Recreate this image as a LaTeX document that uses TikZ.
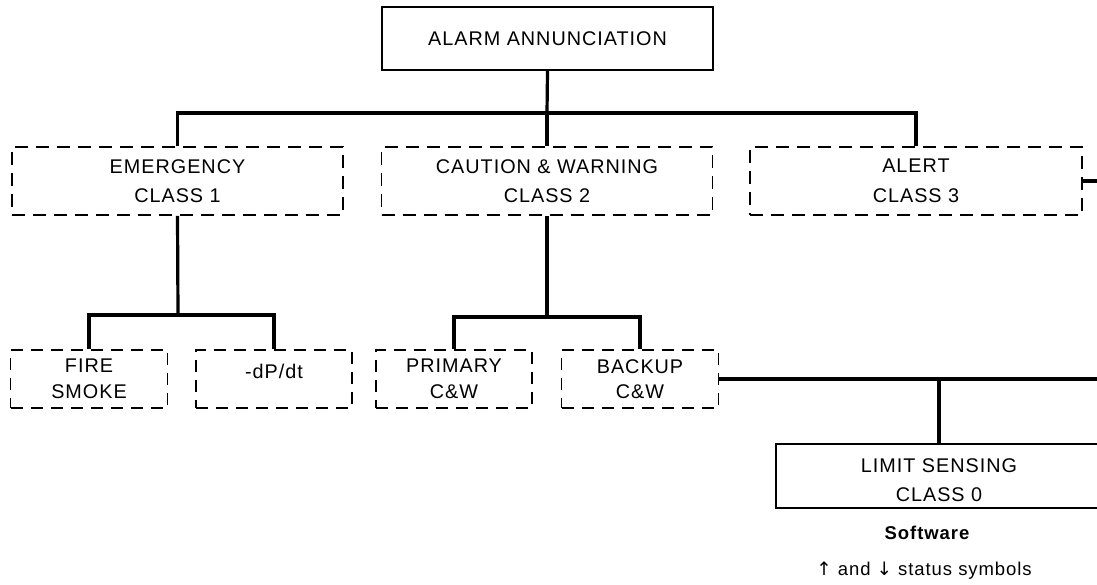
\documentclass[tikz,border=0pt]{standalone}
\usepackage{fontspec}
\setmainfont{Liberation Sans}[LetterSpace=5]
\newfontfamily\arrowfont{DejaVu Sans}
\begin{document}
\begin{tikzpicture}[x=1pt,y=-1pt,
  every node/.style={font=\fontsize{19.8}{29.5}\selectfont, align=center, inner sep=0pt},
  lowtext/.style={font=\fontsize{19.8}{25.5}\selectfont},
  solidbox/.style={draw, line width=1.5pt, rectangle},
  dbox/.style={draw, line width=1.9pt, rectangle, dash pattern=on 13pt off 8pt},
  dboxs/.style={draw, line width=1.6pt, rectangle, dash pattern=on 12pt off 8pt},
  conn/.style={line width=3.2pt}]
\useasboundingbox (0,0) rectangle (1097,584);
\clip (0,0) rectangle (1097,584);
\node[solidbox, minimum width=331pt, minimum height=63pt] (top) at (547.5,38.5) {ALARM ANNUNCIATION};
\node[dbox, minimum width=331pt, minimum height=68pt] (emerg) at (177.5,181) {EMERGENCY\\CLASS 1};
\node[dbox, minimum width=331pt, minimum height=68pt] (caut) at (547,181) {CAUTION \& WARNING\\CLASS 2};
\node[dbox, minimum width=332pt, minimum height=68pt] (alert) at (916,181) {ALERT\\CLASS 3};
\node[dboxs, lowtext, minimum width=157pt, minimum height=58pt] (fire) at (89,379) {FIRE\\SMOKE};
\node[dboxs, minimum width=156pt, minimum height=58pt,
  label={[name=dpdtt, yshift=8pt]center:-dP/dt}] (dpdt) at (274,379) {};
\node[dboxs, lowtext, minimum width=156pt, minimum height=58pt] (prim) at (454,379) {PRIMARY\\C\&W};
\node[dboxs, lowtext, minimum width=157pt, minimum height=58pt] (back) at (640,379) {BACKUP\\C\&W};
\node[solidbox, minimum width=326pt, minimum height=64pt,
  label={[name=limitt, yshift=-4pt]center:LIMIT SENSING\\CLASS 0}] (limit) at (939,476) {};
\node (soft) at (927,533) {\bfseries\fontsize{18.5}{22}\selectfont Software};
\node (sym) at (924,571) {\fontsize{18.5}{22}\selectfont{\arrowfont\addfontfeature{LetterSpace=0}↑} and {\arrowfont\addfontfeature{LetterSpace=0}↓} status symbols};
\coordinate (b1) at (547,113);
\coordinate (b2) at (178,315);
\coordinate (b3) at (547,317);
\coordinate (redge) at (1097,0);
\draw[conn] (top.south) -- (b1);
\draw[conn] (emerg.north) -- (emerg.north |- b1) -- (alert.north |- b1) -- (alert.north);
\draw[conn] (caut.north) -- (b1);
\draw[conn] (alert.east) -- (alert.east -| redge);
\draw[conn] (emerg.south) -- (b2);
\draw[conn] (fire.north) -- (fire.north |- b2) -- (dpdt.north |- b2) -- (dpdt.north);
\draw[conn] (caut.south) -- (b3);
\draw[conn] (prim.north) -- (prim.north |- b3) -- (back.north |- b3) -- (back.north);
\draw[conn] (back.east) -- (back.east -| redge);
\draw[conn] (limit.north |- back.east) -- (limit.north);
\end{tikzpicture}
\end{document}
